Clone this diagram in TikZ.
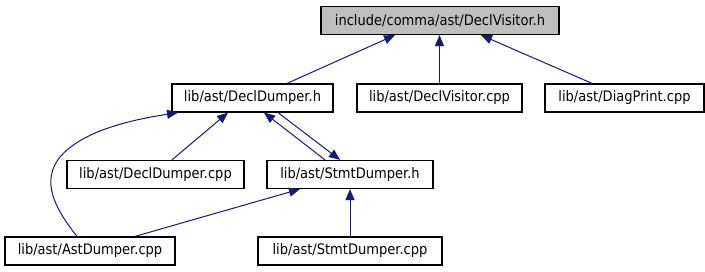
\documentclass[tikz,border=0pt]{standalone}
\usepackage{fontspec}
\setmainfont{DejaVu Sans}[FakeStretch=0.9]
\usetikzlibrary{arrows.meta,calc}
\definecolor{edgeblue}{HTML}{191970}
\definecolor{topgray}{HTML}{BFBFBF}
\begin{document}
\begin{tikzpicture}[x=1pt,y=-1pt,
  filebox/.style={draw=black,line width=1.2pt,fill=white,minimum height=28pt,inner sep=0pt,
    font=\fontsize{14.5}{17}\selectfont},
  edge/.style={draw=edgeblue,line width=1pt,-{Triangle[length=11pt,width=9pt]}}]
\useasboundingbox (0,0) rectangle (705,272);
\node[filebox,fill=topgray,minimum width=238pt] (top) at (440,20.5) {include/comma/ast/DeclVisitor.h};
\node[filebox,minimum width=161pt] (ddh) at (252.5,98) {lib/ast/DeclDumper.h};
\node[filebox,minimum width=165pt] (dvc) at (439.5,98) {lib/ast/DeclVisitor.cpp};
\node[filebox,minimum width=159pt] (dpc) at (624.5,98) {lib/ast/DiagPrint.cpp};
\node[filebox,minimum width=177pt] (ddc) at (155.5,174.5) {lib/ast/DeclDumper.cpp};
\node[filebox,minimum width=166pt] (sdh) at (350,174.5) {lib/ast/StmtDumper.h};
\node[filebox,minimum width=170pt] (adc) at (90,251) {lib/ast/AstDumper.cpp};
\node[filebox,minimum width=184pt] (sdc) at (350,251) {lib/ast/StmtDumper.cpp};
\draw[edge] ([xshift=34.5pt]ddh.north) -- ([xshift=-45pt]top.south);
\draw[edge] (dvc.north) -- (dvc.north |- top.south);
\draw[edge] ([xshift=-32.5pt]dpc.north) -- ([xshift=41pt]top.south);
\draw[edge] ([xshift=16.5pt]ddc.north) -- ([xshift=-24.5pt]ddh.south);
\draw[edge] ([xshift=-25pt]sdh.north) -- ([xshift=11.5pt]ddh.south);
\draw[edge] ([xshift=25.5pt]ddh.south) -- ([xshift=-10pt]sdh.north);
\draw[edge] ([xshift=-13pt]adc.north) .. controls (52,205) and (38,175) .. (67,150)
  .. controls (90,130) and (130,120) .. ([xshift=-74.5pt]ddh.south);
\draw[edge] ([xshift=45pt]adc.north) -- ([xshift=-50pt]sdh.south);
\draw[edge] (sdc.north) -- (sdc.north |- sdh.south);
\end{tikzpicture}
\end{document}
